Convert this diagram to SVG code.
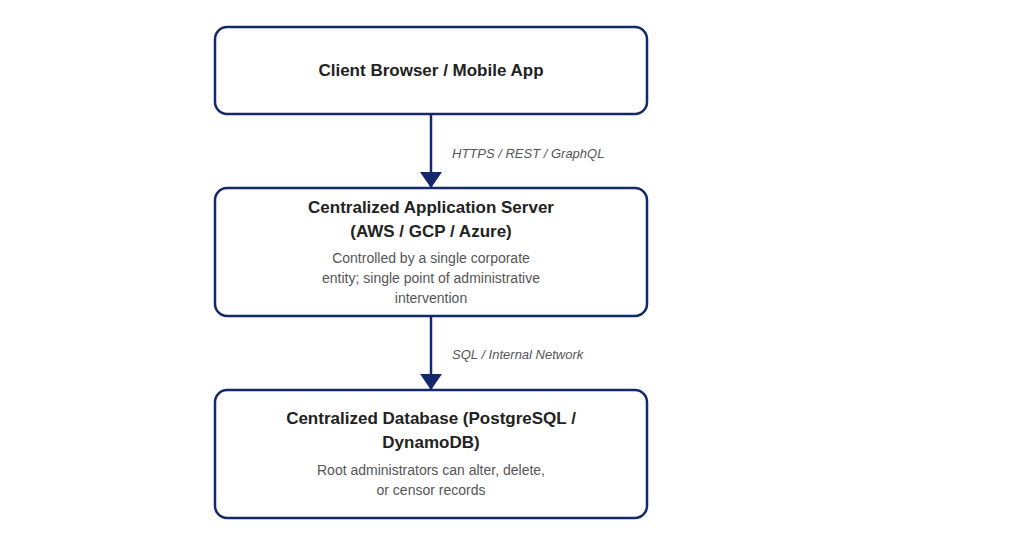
<svg xmlns="http://www.w3.org/2000/svg" width="1024" height="552" viewBox="0 0 1024 552">
<style>
.box{fill:#fff;stroke:#13296b;stroke-width:2.5}
.t{font-family:"Liberation Sans",Arial,sans-serif;font-weight:bold;font-size:17px;fill:#222;text-anchor:middle}
.s{font-family:"Liberation Sans",Arial,sans-serif;font-size:14px;fill:#555;text-anchor:middle}
.e{font-family:"Liberation Sans",Arial,sans-serif;font-style:italic;font-size:13px;fill:#555}
.c{stroke:#13296b;stroke-width:2.5;fill:none}
</style>
<defs><marker id="a" viewBox="0 0 10 10" refX="10" refY="5" markerWidth="7" markerHeight="9" markerUnits="userSpaceOnUse" orient="auto"><path d="M0,0L10,5L0,10z" fill="#13296b"/></marker>
<marker id="ah" viewBox="0 0 16 22" refX="16" refY="11" markerWidth="16" markerHeight="22" markerUnits="userSpaceOnUse" orient="auto"><path d="M0,0L16,11L0,22z" fill="#13296b"/></marker></defs>
<rect width="1024" height="552" fill="#fff"/>
<g id="client"><rect class="box" x="215" y="27" width="432" height="87" rx="12"/><text class="t" x="431" y="76">Client Browser / Mobile App</text></g>
<g id="server"><rect class="box" x="215" y="188" width="432" height="128" rx="12"/><text class="t" x="431" y="213">Centralized Application Server</text><text class="t" x="431" y="237">(AWS / GCP / Azure)</text><text class="s" x="431" y="263">Controlled by a single corporate</text><text class="s" x="431" y="283">entity; single point of administrative</text><text class="s" x="431" y="303">intervention</text></g>
<g id="db"><rect class="box" x="215" y="390" width="432" height="128" rx="12"/><text class="t" x="431" y="424">Centralized Database (PostgreSQL /</text><text class="t" x="431" y="448">DynamoDB)</text><text class="s" x="431" y="475">Root administrators can alter, delete,</text><text class="s" x="431" y="495">or censor records</text></g>
<g id="connectors">
<line class="c" x1="431" y1="115" x2="431" y2="188" marker-end="url(#ah)"/>
<text class="e" x="452" y="158">HTTPS / REST / GraphQL</text>
<line class="c" x1="431" y1="317" x2="431" y2="390" marker-end="url(#ah)"/>
<text class="e" x="452" y="359">SQL / Internal Network</text>
</g>
</svg>
